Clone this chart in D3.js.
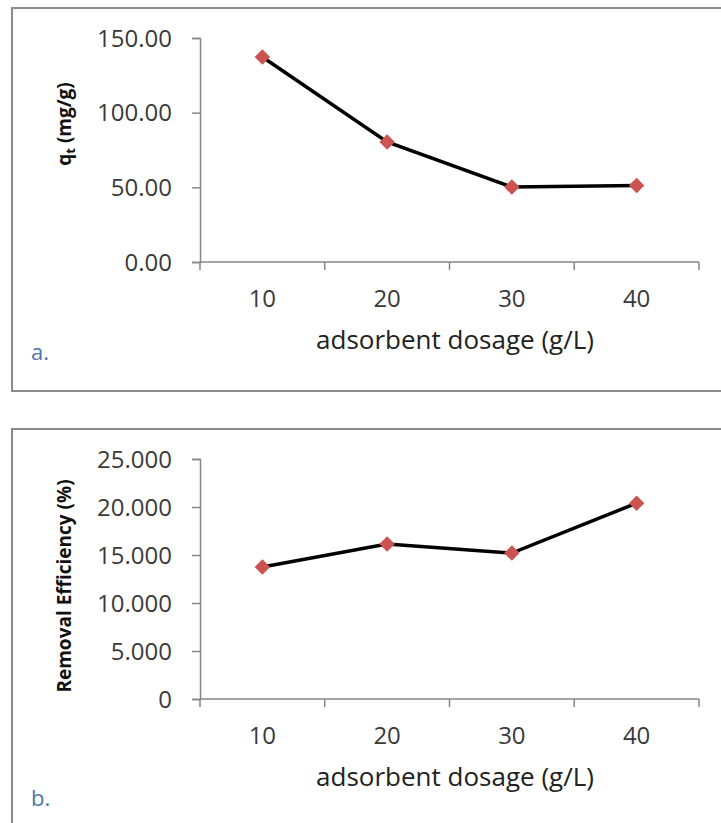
<!DOCTYPE html>
<html lang="en">
<head>
    <meta charset="UTF-8">
    <title>Adsorbent dosage</title>
    <script src="https://d3js.org/d3.v7.min.js"></script>
    <style>
        body { margin: 0; background: #fff; }
        svg { display: block; }
        .tick-label { font-family: "Open Sans", sans-serif; font-size: 24px; fill: #3a3a3a; }
        .axis-title { font-family: "Open Sans", sans-serif; font-size: 26px; fill: #222; }
        .y-title { font-family: "Open Sans", sans-serif; font-weight: bold; font-size: 19px; fill: #111; }
        .panel-tag { font-family: "Open Sans", sans-serif; font-size: 22px; fill: #4f76ad; }
    </style>
</head>
<body>
<div id="chart"></div>
<script>
    // data
    const dosages = [10, 20, 30, 40];
    const qtValues = [137.3, 80.4, 50.2, 51.2];
    const removalValues = [13.75, 16.15, 15.2, 20.4];
    const qtTicks = [0, 50, 100, 150];
    const removalTicks = [0, 5, 10, 15, 20, 25];

    const width = 721, height = 823;

    const svg = d3.select("#chart").append("svg")
        .attr("width", width)
        .attr("height", height);

    svg.append("rect").attr("width", width).attr("height", height).attr("fill", "#fff");

    function drawPanel(opts) {
        const g = svg.append("g");

        // frame
        g.append("rect")
            .attr("x", 12).attr("y", opts.boxTop)
            .attr("width", 730).attr("height", opts.boxHeight)
            .attr("fill", "none")
            .attr("stroke", "#8a8a8a")
            .attr("stroke-width", 2);

        const x = d3.scaleBand()
            .domain(dosages)
            .range([200, 699]);

        const y = d3.scaleLinear()
            .domain([0, opts.yMax])
            .range([opts.y0, opts.yTop]);

        // y axis
        const yAxis = g.append("g")
            .attr("transform", "translate(200,0)")
            .call(d3.axisLeft(y).tickValues(opts.ticks).tickSize(8).tickFormat(""));
        yAxis.select(".domain").attr("stroke", "#868686").attr("stroke-width", 1.5);
        yAxis.selectAll(".tick line").attr("stroke", "#868686").attr("stroke-width", 1.5);

        g.selectAll(".ylab")
            .data(opts.ticks)
            .enter().append("text")
            .attr("class", "tick-label")
            .attr("x", 172)
            .attr("y", d => y(d))
            .attr("dy", "0.36em")
            .attr("text-anchor", "end")
            .text(opts.format);

        // x axis, ticks sit on category boundaries
        const xAxis = g.append("g")
            .attr("transform", `translate(0,${opts.y0})`);
        xAxis.append("line")
            .attr("x1", x.range()[0]).attr("x2", x.range()[1])
            .attr("stroke", "#868686").attr("stroke-width", 1.5);
        const bounds = dosages.map(d => x(d)).concat([x(dosages[dosages.length - 1]) + x.bandwidth()]);
        xAxis.selectAll(".xtick")
            .data(bounds)
            .enter().append("line")
            .attr("x1", d => d).attr("x2", d => d)
            .attr("y1", 0).attr("y2", 8)
            .attr("stroke", "#868686").attr("stroke-width", 1.5);

        g.selectAll(".xlab")
            .data(dosages)
            .enter().append("text")
            .attr("class", "tick-label")
            .attr("x", d => x(d) + x.bandwidth() / 2)
            .attr("y", opts.y0 + 45)
            .attr("text-anchor", "middle")
            .text(d => d);

        g.append("text")
            .attr("class", "axis-title")
            .attr("x", 455)
            .attr("y", opts.y0 + 87)
            .attr("text-anchor", "middle")
            .text("adsorbent dosage (g/L)");

        // y title
        const yt = g.append("text")
            .attr("class", "y-title")
            .attr("transform", `translate(71,${opts.yTitleY}) rotate(-90)`)
            .attr("text-anchor", "middle");
        opts.yTitle(yt);

        // panel tag
        g.append("text")
            .attr("class", "panel-tag")
            .attr("x", 31)
            .attr("y", opts.tagY)
            .text(opts.tag);

        // series
        const line = d3.line()
            .x((d, i) => x(dosages[i]) + x.bandwidth() / 2)
            .y(d => y(d));

        g.append("path")
            .datum(opts.values)
            .attr("fill", "none")
            .attr("stroke", "#000")
            .attr("stroke-width", 3.5)
            .attr("d", line);

        g.selectAll(".pt")
            .data(opts.values)
            .enter().append("path")
            .attr("d", d3.symbol().type(d3.symbolSquare).size(121))
            .attr("transform", (d, i) => `translate(${x(dosages[i]) + x.bandwidth() / 2},${y(d)}) rotate(45)`)
            .attr("fill", "#cc5450");
    }

    drawPanel({
        boxTop: 8, boxHeight: 383,
        y0: 262, yTop: 38, yMax: 150,
        ticks: qtTicks,
        format: d => d3.format(".2f")(d),
        values: qtValues,
        yTitleY: 124,
        yTitle: t => {
            t.append("tspan").text("q");
            t.append("tspan").attr("font-size", "13px").attr("dy", "4").text("t");
            t.append("tspan").attr("dy", "-4").text(" (mg/g)");
        },
        tag: "a.", tagY: 360
    });

    drawPanel({
        boxTop: 429, boxHeight: 420,
        y0: 699, yTop: 459, yMax: 25,
        ticks: removalTicks,
        format: d => d === 0 ? "0" : d3.format(".3f")(d),
        values: removalValues,
        yTitleY: 586,
        yTitle: t => t.text("Removal Efficiency (%)"),
        tag: "b.", tagY: 806
    });
</script>
</body>
</html>
